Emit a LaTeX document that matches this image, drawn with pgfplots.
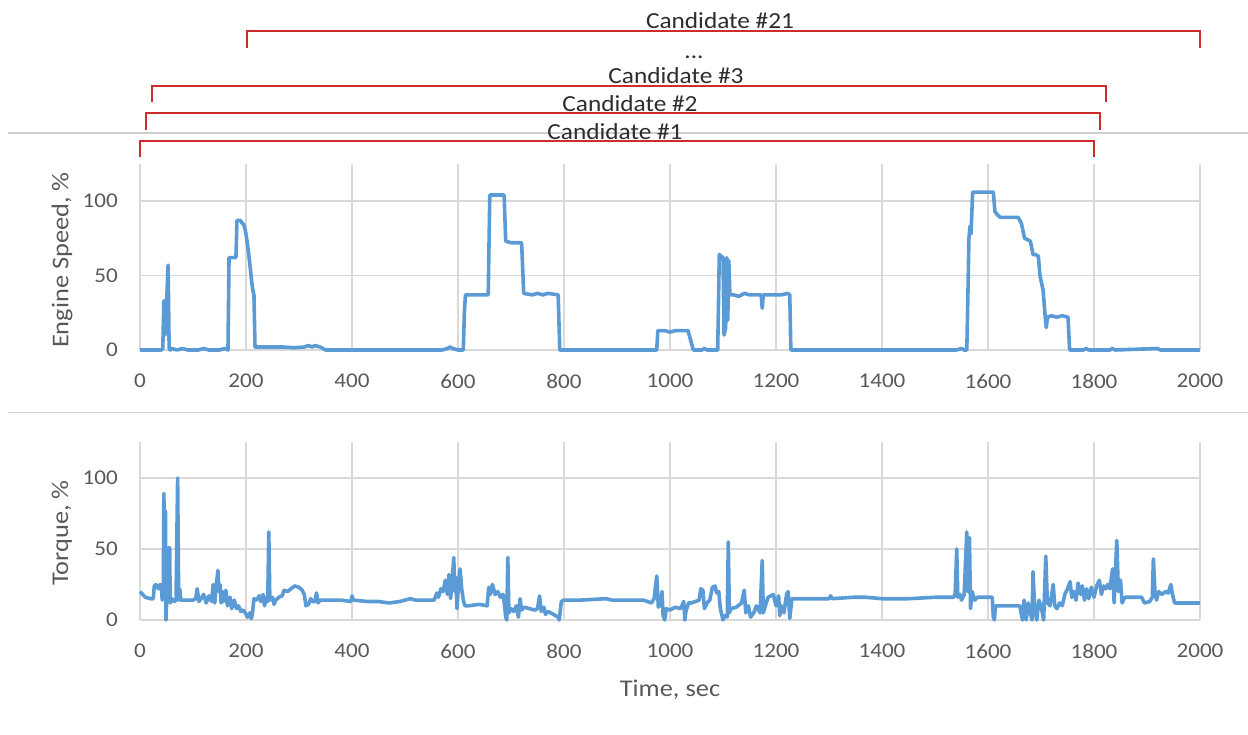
\documentclass[border=0pt]{standalone}
\usepackage{fontspec}
\setmainfont{Carlito}[FakeStretch=1.1]
\usepackage{pgfplots}
\pgfplotsset{compat=1.18}
\definecolor{ser}{RGB}{91,155,213}
\definecolor{gridc}{RGB}{217,217,217}
\definecolor{tickc}{RGB}{89,89,89}
\definecolor{brk}{RGB}{205,45,45}
\definecolor{sep}{RGB}{208,208,208}
\definecolor{txt}{RGB}{45,45,45}
\pgfplotsset{myax/.style={
  scale only axis, width=1060pt,
  xmin=0, xmax=2000, ymin=0, ymax=125,
  xtick={0,200,...,2000}, ytick={0,50,100},
  grid=major, grid style={gridc, line width=1.2pt},
  axis line style={draw=none}, major tick length=0pt,
  ticklabel style={font=\fontsize{21}{25}\selectfont, text=tickc},
  /pgf/number format/assume math mode=true,
  /pgf/number format/set thousands separator={},
  xticklabel style={anchor=center, yshift=-31pt},
  yticklabel style={anchor=east, inner sep=0pt, xshift=-22pt},
  label style={font=\fontsize{24}{28}\selectfont, text=tickc},
  anchor=south west, clip=false,
}, dat/.style={color=ser, line width=3.6pt, line join=round, no markers}}
\begin{document}
\begin{tikzpicture}[x=1pt,y=1pt]
\useasboundingbox (0,0) rectangle (1248,734);
% separators
\draw[sep, line width=1.3pt] (8,601) -- (1248,601);
\draw[sep, line width=1.6pt] (8,321.3) -- (1248,321.3);

% top axis: engine speed
\begin{axis}[myax, at={(140pt,384pt)}, height=186.25pt,
  ylabel={Engine Speed, \%},
  ylabel style={at={(axis description cs:-0.0736,0.483)}, anchor=center}]
\addplot[dat] coordinates {
(0,0) (40,0) (43,1) (45,33) (47,10) (50,30) (53,57) (55,1) (57,0) (60,1) (70,0) (80,1) (90,0)
(110,0) (120,1) (130,0) (150,0) (160,1) (166,0) (168,62) (175,62) (181,62) (183,87) (189,87)
(193,85) (196,84) (199,80) (202,73) (205,65) (208,55) (211,45) (213,40) (215,37) (217,2)
(230,2) (250,2) (270,2) (290,1.5) (310,2) (318,3) (325,2) (330,3) (340,2) (345,1) (350,0)
(400,0) (500,0) (570,0) (580,1) (585,2) (590,1) (600,0) (610,0) (612,25) (614,37) (640,37)
(657,37) (660,104) (687,104) (690,73) (700,72) (720,72) (724,38) (740,37) (750,38) (760,37)
(770,38) (789,37) (792,0) (975,0) (977,13) (990,13) (1000,12) (1010,13) (1034,13) (1044,0)
(1060,0) (1065,1) (1070,0) (1090,0) (1093,64) (1100,62) (1102,10) (1105,15) (1107,62)
(1109,20) (1111,60) (1113,37) (1120,37) (1130,36) (1140,38) (1150,37) (1160,37) (1172,37)
(1174,28) (1176,37) (1190,37) (1210,37) (1222,38) (1226,37) (1228,0) (1540,0) (1550,1)
(1555,0) (1560,0) (1562,35) (1564,75) (1566,83) (1568,78) (1571,106) (1590,106) (1610,106)
(1613,93) (1617,91) (1623,89) (1640,89) (1657,89) (1663,85) (1669,75) (1675,74) (1680,73)
(1685,64) (1690,64) (1695,63) (1698,50) (1704,40) (1708,22) (1710,15) (1712,22) (1720,23)
(1730,22) (1740,23) (1751,22) (1754,0) (1780,0) (1785,1) (1790,0) (1830,0) (1835,1)
(1840,0) (1920,1) (1925,0) (2000,0)
};
\end{axis}

% bottom axis: torque
\begin{axis}[myax, at={(140pt,114pt)}, height=177.5pt,
  ylabel={Torque, \%},
  ylabel style={at={(axis description cs:-0.0736,0.49)}, anchor=center},
  xlabel={Time, sec},
  xlabel style={at={(axis description cs:0.5,-0.394)}, anchor=center}]
\addplot[dat] coordinates {
(0,20) (5,18) (10,16) (20,15) (25,15) (27,24) (30,25) (35,22) (38,25) (40,24) (42,14)
(44,20) (45,89) (47,40) (48,77) (49,0) (50,10) (52,20) (54,51) (56,51) (57,12) (60,15)
(65,13) (68,14) (71,100) (73,14) (75,22) (77,14) (85,14) (100,14) (105,15) (108,22)
(111,13) (115,15) (120,18) (125,12) (130,17) (135,13) (138,25) (141,12) (144,25) (147,35)
(149,20) (151,25) (153,12) (156,20) (158,13) (162,21) (165,10) (170,16) (173,8) (178,14)
(182,8) (186,10) (190,6) (195,7) (200,4) (203,2) (207,5) (210,1) (212,4) (215,15) (220,14)
(225,17) (228,13) (232,18) (235,10) (238,16) (241,13) (243,62) (245,14) (250,16) (253,11)
(256,14) (262,16) (268,17) (272,21) (278,20) (285,22) (292,24) (300,23) (306,21) (310,18)
(313,10) (318,11) (322,15) (326,13) (330,13) (333,19) (336,12) (340,14) (350,14) (380,14)
(398,13) (400,17) (402,14) (430,13) (450,13) (470,12) (490,13) (500,14) (510,15) (520,14)
(540,14) (555,14) (560,19) (563,16) (568,22) (572,20) (576,28) (580,18) (583,32) (586,15)
(589,28) (592,44) (594,20) (596,30) (598,8) (601,25) (604,36) (607,22) (610,14) (613,10)
(620,10) (640,11) (655,10) (658,23) (661,18) (665,25) (670,18) (675,20) (680,16) (685,18)
(688,10) (690,2) (692,0) (694,44) (696,5) (700,8) (705,6) (710,10) (714,2) (717,15) (720,7)
(725,9) (735,8) (745,7) (750,8) (754,17) (757,6) (762,9) (765,4) (770,6) (780,4) (789,2)
(791,0) (795,13) (800,14) (830,14) (880,15) (890,14) (950,14) (965,12) (970,15) (975,31)
(978,9) (982,12) (985,20) (987,3) (990,0) (993,8) (1000,7) (1010,9) (1020,8) (1026,13)
(1028,0) (1030,6) (1035,12) (1040,12) (1048,13) (1055,14) (1058,22) (1062,21) (1065,8)
(1070,12) (1075,14) (1080,23) (1085,24) (1088,19) (1092,20) (1095,8) (1100,0) (1103,3)
(1108,2) (1110,55) (1112,5) (1115,8) (1125,9) (1135,12) (1140,21) (1143,5) (1148,10)
(1152,2) (1158,5) (1163,10) (1170,5) (1174,42) (1176,5) (1180,10) (1185,16) (1190,17)
(1195,18) (1200,10) (1205,17) (1207,3) (1210,10) (1215,5) (1220,18) (1223,20) (1226,1)
(1230,15) (1240,15) (1300,15) (1303,17) (1306,15) (1345,16) (1370,16) (1400,15) (1450,15)
(1500,16) (1535,16) (1538,18) (1541,50) (1543,16) (1547,18) (1550,14) (1555,18) (1560,62)
(1562,20) (1565,58) (1567,8) (1570,20) (1575,14) (1580,16) (1590,16) (1605,16) (1608,16)
(1610,2) (1612,0) (1614,10) (1630,10) (1660,10) (1665,0) (1668,14) (1672,0) (1676,12)
(1683,0) (1685,34) (1688,8) (1692,0) (1696,14) (1700,10) (1705,0) (1709,45) (1712,12)
(1717,10) (1723,25) (1726,10) (1730,8) (1735,12) (1740,10) (1745,18) (1750,22) (1755,27)
(1758,16) (1762,20) (1766,14) (1770,26) (1775,18) (1778,24) (1782,14) (1786,22) (1790,15)
(1795,23) (1800,16) (1805,24) (1810,28) (1814,18) (1818,24) (1822,22) (1826,25) (1830,22)
(1835,36) (1838,12) (1840,30) (1843,56) (1846,20) (1850,28) (1853,12) (1858,16) (1870,16)
(1885,16) (1890,16) (1895,12) (1905,13) (1910,16) (1912,43) (1915,20) (1918,14) (1922,20)
(1928,18) (1935,20) (1940,19) (1945,25) (1948,18) (1952,12) (1960,12) (1980,12) (2000,12)
};
\end{axis}

% candidate brackets
\begin{scope}[brk, line width=1.5pt]
\draw (140,577) -- (140,593) -- (1094,593) -- (1094,577);
\draw (146,604) -- (146,621) -- (1100,621) -- (1100,604);
\draw (152,632) -- (152,648) -- (1106,648) -- (1106,632);
\draw (247,686) -- (247,703) -- (1200,703) -- (1200,686);
\end{scope}
\begin{scope}[every node/.style={text=txt, font=\fontsize{23}{27}\selectfont, inner sep=0pt, anchor=base}]
\node at (615,594) {Candidate \#1};
\node at (630,622) {Candidate \#2};
\node at (676,650) {Candidate \#3};
\node at (694,675) {...};
\node at (720,705) {Candidate \#21};
\end{scope}
\end{tikzpicture}
\end{document}
